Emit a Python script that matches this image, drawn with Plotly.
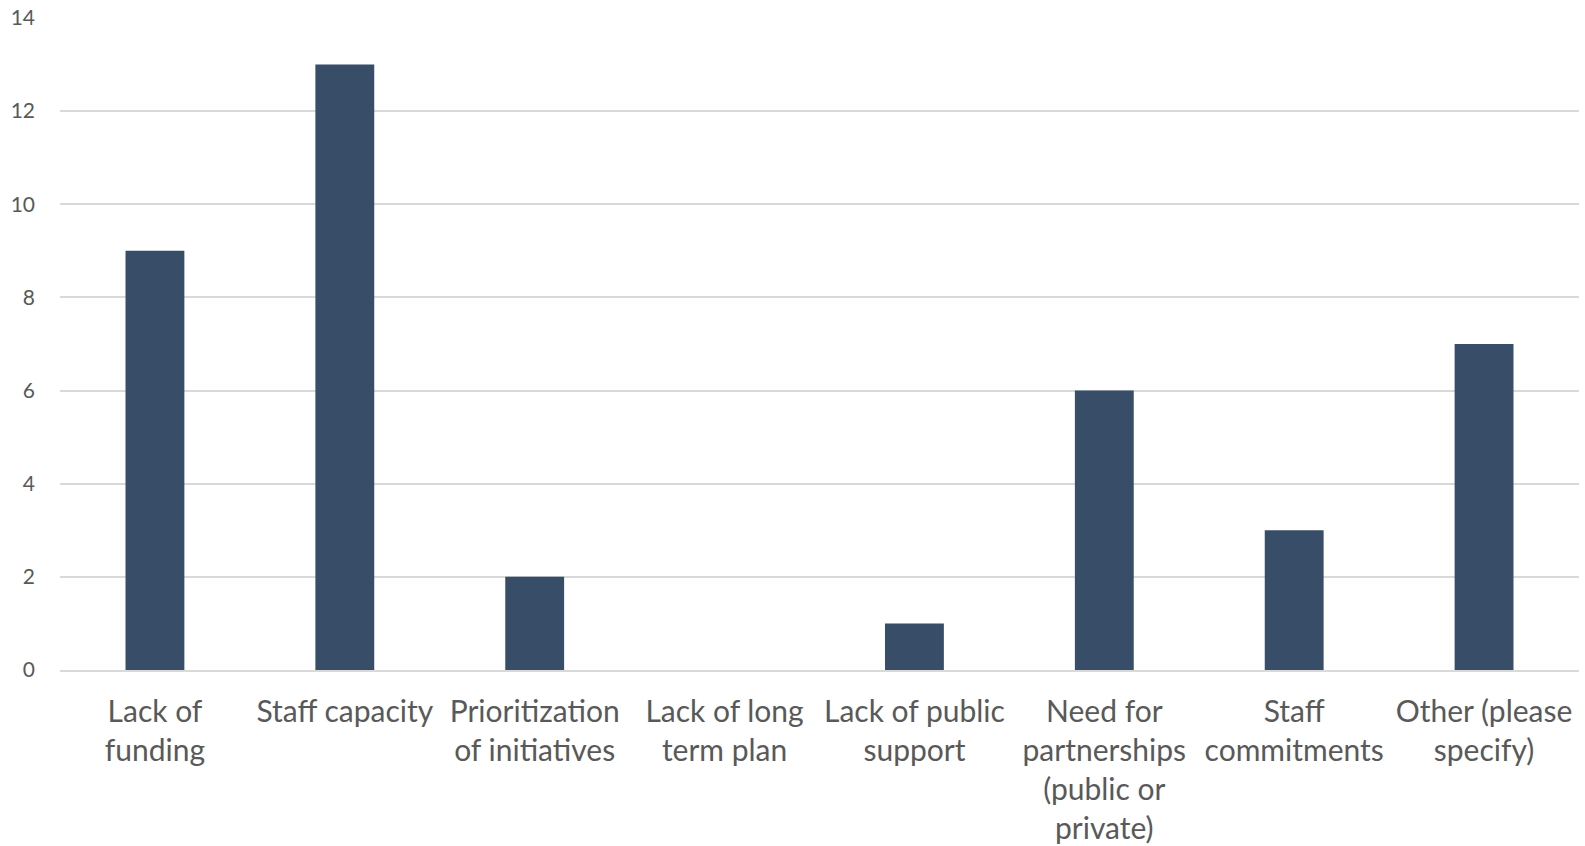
import plotly.graph_objects as go

categories = ["Lack of<br>funding", "Staff capacity", "Prioritization<br>of initiatives",
              "Lack of long<br>term plan", "Lack of public<br>support",
              "Need for<br>partnerships<br>(public or<br>private)", "Staff<br>commitments",
              "Other (please<br>specify)"]
values = [9, 13, 2, 0, 1, 6, 3, 7]
y_ticks = [0, 2, 4, 6, 8, 10, 12, 14]

fig = go.Figure(go.Bar(x=categories, y=values, marker=dict(color="#374D68", line=dict(width=0))))

fig.update_layout(
    width=1585, height=846,
    margin=dict(l=60, r=6, t=18, b=176),
    paper_bgcolor="white", plot_bgcolor="white",
    bargap=0.69,
    showlegend=False,
    font=dict(family="Lato, Calibri, sans-serif", color="#595959"),
)
fig.update_xaxes(tickfont=dict(size=30), showgrid=False, showline=True, linecolor="#D9D9D9",
                 linewidth=2, ticks="", ticklabelstandoff=14, automargin=False)
fig.update_yaxes(range=[0, 14], tickvals=y_ticks, tickfont=dict(size=21), showgrid=True,
                 gridcolor="#D9D9D9", gridwidth=2, zeroline=False, showline=False,
                 ticks="", ticklabelstandoff=24, automargin=False)

fig.write_html("out.html")
